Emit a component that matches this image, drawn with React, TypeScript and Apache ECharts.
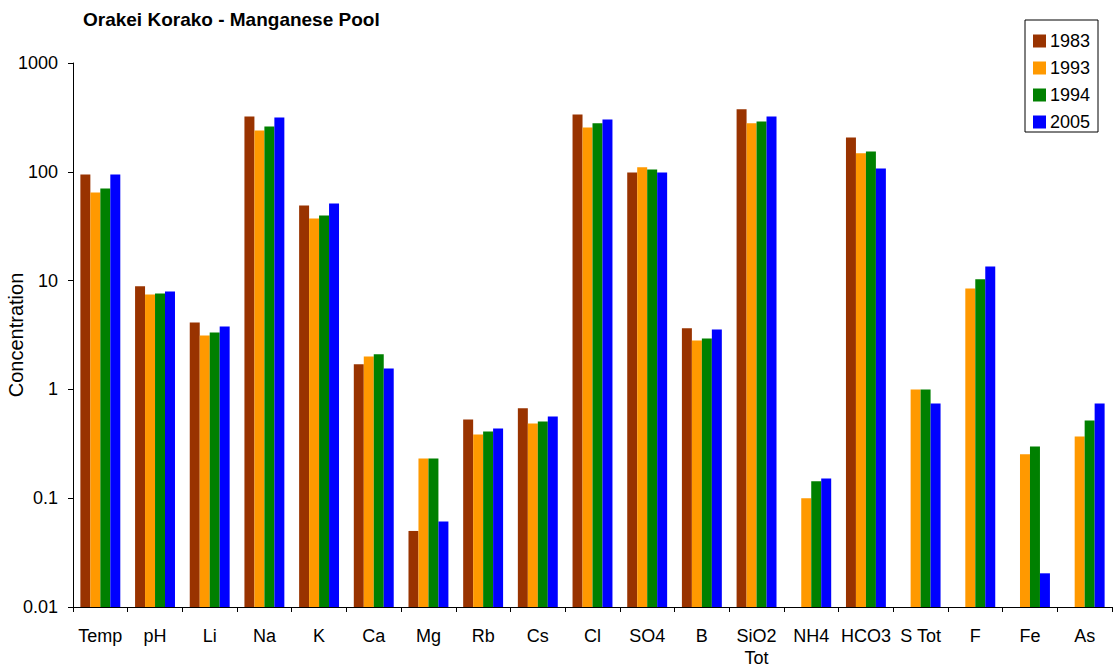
import React, { useEffect, useRef } from "react";
import * as echarts from "echarts";

const categories = ["Temp", "pH", "Li", "Na", "K", "Ca", "Mg", "Rb", "Cs", "Cl", "SO4", "B", "SiO2\nTot", "NH4", "HCO3", "S Tot", "F", "Fe", "As"];
const years = ["1983", "1993", "1994", "2005"];
const s1983 = [94.6, 8.85, 4.13, 323, 49.1, 1.7, 0.05, 0.53, 0.67, 337, 98.7, 3.64, 375, null, 207, null, null, null, null];
const s1993 = [64.6, 7.47, 3.13, 240, 37.3, 2.01, 0.232, 0.386, 0.487, 256, 110, 2.82, 279, 0.1, 148, 1.0, 8.47, 0.253, 0.37];
const s1994 = [70.3, 7.63, 3.34, 261, 39.7, 2.1, 0.232, 0.41, 0.508, 279, 105, 2.94, 290, 0.143, 154, 1.0, 10.3, 0.299, 0.519];
const s2005 = [94.6, 7.96, 3.79, 316, 51, 1.56, 0.061, 0.438, 0.565, 303, 98.7, 3.56, 323, 0.152, 107, 0.743, 13.5, 0.0204, 0.743];
const colors = ["#993300", "#FF9900", "#008000", "#0000FF"];
const yTicks = ["0.01", "0.1", "1", "10", "100", "1000"];

const FONT = "Liberation Sans, Arial, sans-serif";

export default function App() {
  const ref = useRef<HTMLDivElement>(null);
  useEffect(() => {
    if (!ref.current) return;
    const chart = echarts.init(ref.current, null, { renderer: "svg" });
    const data = [s1983, s1993, s1994, s2005];
    chart.setOption({
      animation: false,
      backgroundColor: "#ffffff",
      textStyle: { fontFamily: FONT },
      title: {
        text: "Orakei Korako - Manganese Pool",
        left: 78,
        top: 5,
        textStyle: { fontSize: 19, fontWeight: "bold", color: "#000", fontFamily: FONT },
      },
      legend: {
        orient: "vertical",
        left: 1028,
        top: 27,
        itemWidth: 13,
        itemHeight: 13,
        itemGap: 9,
        icon: "rect",
        data: years,
        textStyle: { fontSize: 18, color: "#000", padding: [0, 0, 0, -1] },
      },
      graphic: [
        {
          type: "rect",
          shape: { x: 1025, y: 20, width: 73, height: 112 },
          style: { fill: "none", stroke: "#000", lineWidth: 1 },
          z: 10,
        },
      ],
      grid: { left: 73, right: 2, top: 63, bottom: 64, containLabel: false, outerBoundsMode: "none" },
      xAxis: {
        type: "category",
        data: categories,
        axisLine: { lineStyle: { color: "#000", width: 1 } },
        axisTick: { show: true, length: 5, lineStyle: { color: "#000" } },
        axisLabel: { fontSize: 18, color: "#000", margin: 18, interval: 0, lineHeight: 22 },
      },
      yAxis: {
        type: "log",
        logBase: 10,
        min: 0.01,
        max: 1000,
        startValue: 0.01,
        name: "Concentration",
        nameLocation: "middle",
        nameGap: 47,
        nameMoveOverlap: false,
        nameRotate: 90,
        nameTextStyle: { fontSize: 20, color: "#000" },
        splitLine: { show: false },
        axisLine: { show: true, lineStyle: { color: "#000", width: 1 } },
        axisTick: { show: true, length: 5, lineStyle: { color: "#000" } },
        axisLabel: {
          fontSize: 18,
          color: "#000",
          margin: 15,
          formatter: (v: number) => {
            const i = Math.round(Math.log10(v)) + 2;
            return yTicks[i] ?? String(v);
          },
        },
      },
      series: years.map((y, i) => ({
        name: y,
        type: "bar",
        data: data[i],
        barGap: 0,
        barCategoryGap: "27%",
        itemStyle: { color: colors[i] },
      })),
    });
    return () => chart.dispose();
  }, []);
  return <div ref={ref} style={{ position: "fixed", left: 0, top: 0, width: 1114, height: 671 }} />;
}
